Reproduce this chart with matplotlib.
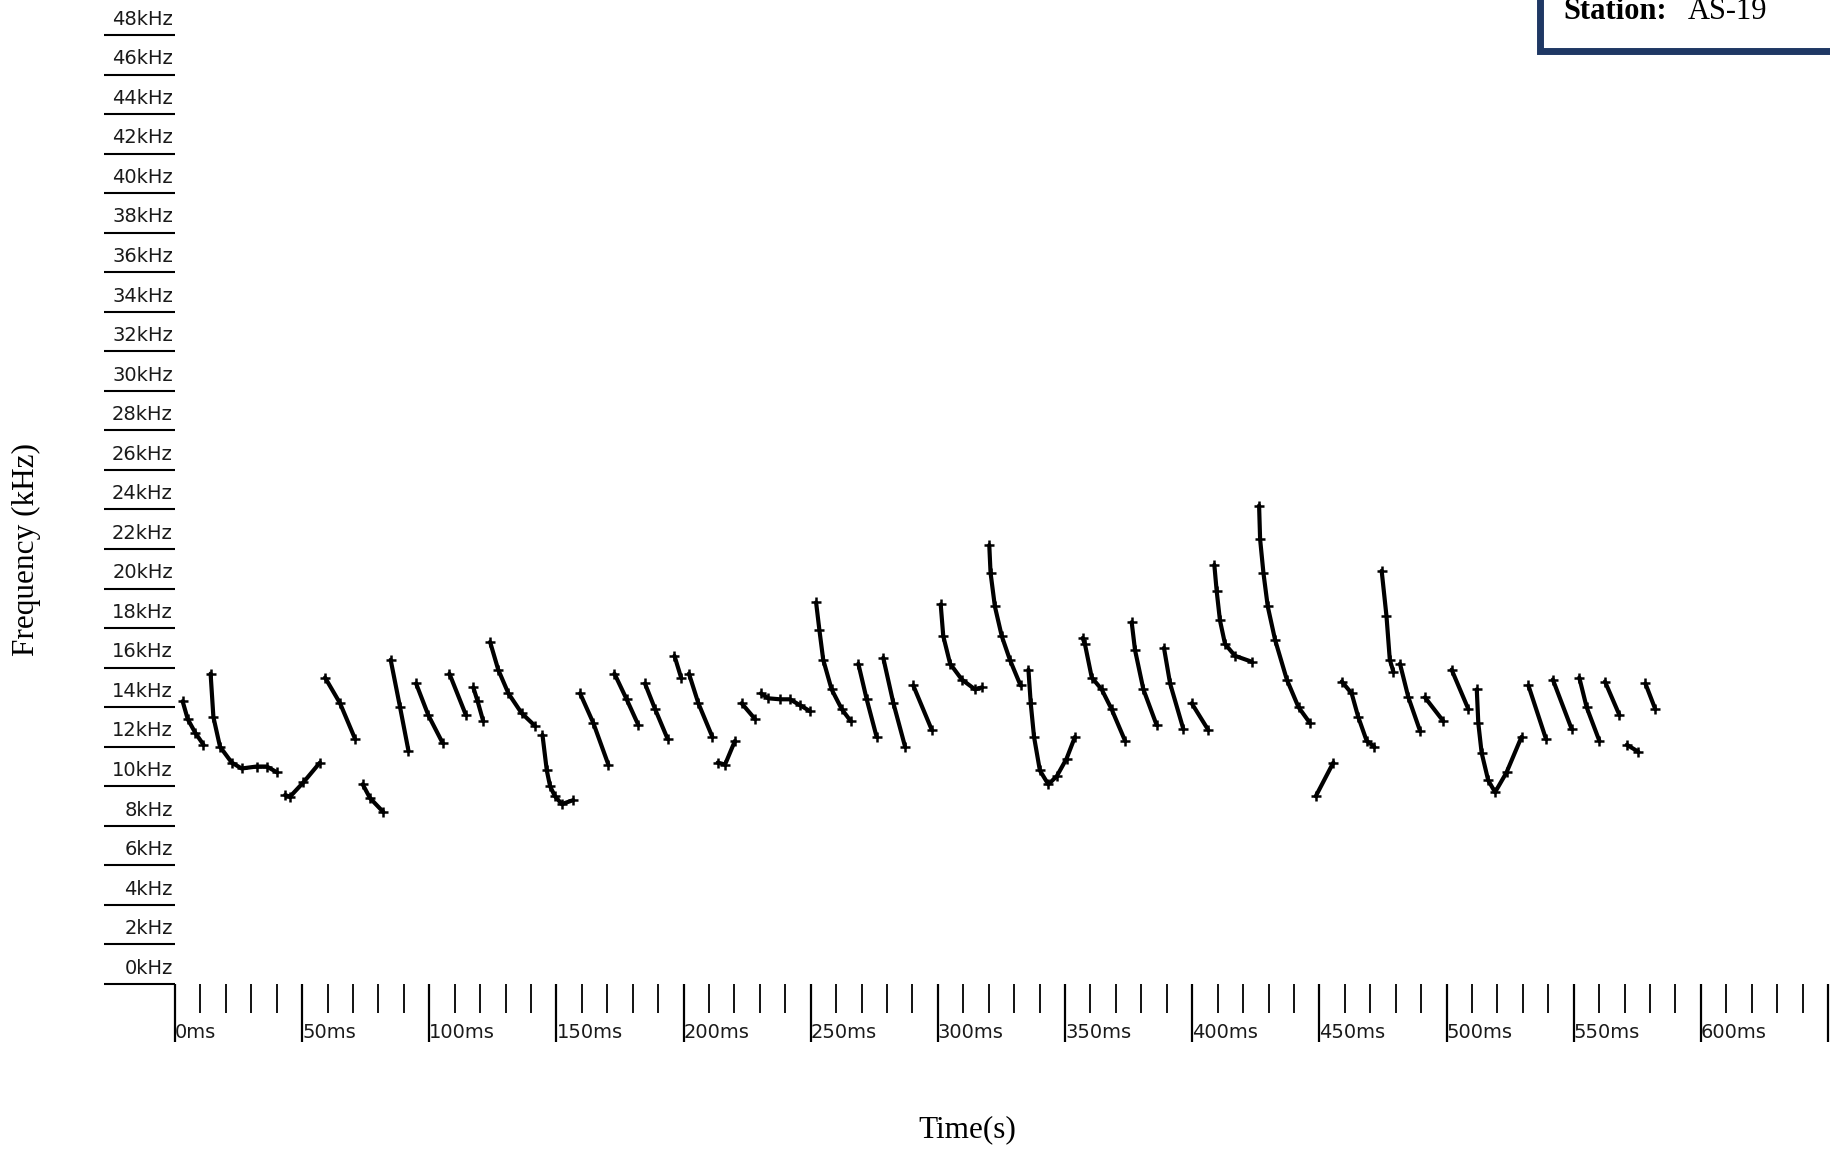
import matplotlib
matplotlib.use("Agg")
import matplotlib.pyplot as plt
from matplotlib.patches import Rectangle

# call traces: time (ms) and frequency (kHz) per call
call_ms = [
    [3.0, 5.0, 8.0, 11.2],
    [14.0, 15.1, 17.7, 22.3, 26.2, 32.1, 36.1, 40.2],
    [43.3, 45.2, 50.5, 57.0],
    [59.0, 64.9, 70.8],
    [73.8, 76.7, 81.9],
    [84.8, 88.5, 91.8],
    [94.8, 99.6, 105.2],
    [107.9, 114.4],
    [117.3, 119.0, 121.2],
    [123.9, 127.1, 131.1, 136.3, 141.6],
    [144.5, 146.2, 147.5, 149.4, 152.1, 156.6],
    [159.3, 164.5, 170.4],
    [172.8, 177.6, 182.2],
    [184.8, 188.8, 193.7],
    [196.4, 199.0],
    [202.1, 205.8, 211.3],
    [213.4, 216.3, 220.2],
    [222.8, 228.1],
    [230.4, 233.3, 237.9, 241.8, 245.8, 249.7],
    [252.1, 253.4, 254.9, 258.2, 262.2, 265.7],
    [268.7, 272.0, 275.9],
    [278.5, 282.5, 287.1],
    [290.3, 297.6],
    [301.1, 302.1, 304.8, 309.4, 314.6, 317.2],
    [320.2, 320.7, 322.4, 325.1, 328.3, 332.5],
    [335.6, 336.5, 337.8, 340.1, 343.4, 346.7, 350.6, 353.9],
    [356.9, 357.8, 360.5, 364.4, 368.3, 373.6],
    [376.2, 377.5, 380.8, 386.0],
    [388.9, 391.3, 396.5],
    [399.8, 406.3],
    [408.7, 409.6, 410.9, 412.9, 416.8, 423.4],
    [426.3, 426.7, 428.0, 429.7, 432.6, 437.2, 441.8, 446.3],
    [448.6, 455.5],
    [458.8, 462.7, 465.3, 468.6, 471.6],
    [474.5, 476.4, 477.7, 479.1],
    [481.7, 485.0, 489.6],
    [491.5, 498.7],
    [502.0, 508.6],
    [511.9, 512.5, 513.8, 516.4, 519.1, 523.6, 529.5],
    [532.2, 539.1],
    [541.8, 549.2],
    [552.2, 555.1, 560.1],
    [562.3, 568.0],
    [570.9, 575.4],
    [578.2, 582.1],
]
call_khz = [
    [14.3, 13.4, 12.7, 12.1],
    [15.7, 13.5, 12.0, 11.2, 10.9, 11.0, 11.0, 10.7],
    [9.56, 9.47, 10.2, 11.2],
    [15.5, 14.2, 12.4],
    [10.1, 9.4, 8.7],
    [16.4, 14.0, 11.8],
    [15.2, 13.6, 12.2],
    [15.7, 13.6],
    [15.0, 14.3, 13.3],
    [17.3, 15.9, 14.7, 13.7, 13.05],
    [12.6, 10.8, 10.0, 9.5, 9.1, 9.3],
    [14.7, 13.2, 11.1],
    [15.7, 14.4, 13.1],
    [15.2, 13.9, 12.4],
    [16.6, 15.5],
    [15.7, 14.2, 12.5],
    [11.2, 11.1, 12.3],
    [14.2, 13.4],
    [14.7, 14.45, 14.4, 14.4, 14.1, 13.8],
    [19.3, 17.9, 16.4, 14.9, 13.9, 13.3],
    [16.2, 14.4, 12.5],
    [16.5, 14.2, 12.0],
    [15.1, 12.85],
    [19.2, 17.6, 16.2, 15.4, 14.9, 15.0],
    [22.2, 20.8, 19.1, 17.6, 16.4, 15.1],
    [15.9, 14.2, 12.5, 10.8, 10.1, 10.5, 11.4, 12.5],
    [17.5, 17.2, 15.5, 14.9, 13.9, 12.3],
    [18.3, 16.9, 14.9, 13.1],
    [17.0, 15.2, 12.9],
    [14.2, 12.85],
    [21.2, 19.9, 18.4, 17.2, 16.6, 16.3],
    [24.2, 22.5, 20.8, 19.1, 17.4, 15.4, 14.0, 13.2],
    [9.5, 11.2],
    [15.3, 14.7, 13.5, 12.3, 12.0],
    [20.9, 18.6, 16.4, 15.8],
    [16.2, 14.5, 12.8],
    [14.5, 13.3],
    [15.9, 13.9],
    [14.9, 13.2, 11.7, 10.3, 9.7, 10.7, 12.5],
    [15.1, 12.4],
    [15.4, 12.9],
    [15.5, 14.0, 12.3],
    [15.3, 13.6],
    [12.1, 11.75],
    [15.2, 13.9],
]

khz_ticks = list(range(0, 50, 2))
ms_major = list(range(0, 651, 50))
ms_minor = list(range(0, 651, 10))

fig = plt.figure(figsize=(18.3, 11.52), dpi=100)
ax = fig.add_axes([175 / 1830, 168 / 1152, 1655 / 1830, 984 / 1152])
ax.set_xlim(0, 650.8)
ax.set_ylim(0, 49.77)
for s in ax.spines.values():
    s.set_visible(False)

for t, f in zip(call_ms, call_khz):
    ax.plot(t, f, color='black', lw=3.0, marker='+', ms=7, mew=1.8,
            solid_capstyle='round', solid_joinstyle='round')

# frequency scale: underline ticks with labels sitting on top
ax.set_yticks(khz_ticks)
ax.tick_params(axis='y', direction='out', length=51, width=1.5,
               color='black', labelleft=False)
for v in khz_ticks:
    ax.annotate('%dkHz' % v, xy=(0, v), xycoords=('axes fraction', 'data'),
                xytext=(-1.5, 4.5), textcoords='offset points',
                ha='right', va='bottom', fontsize=14, color='#1a1a1a',
                family='DejaVu Sans', annotation_clip=False)

# time scale
ax.set_xticks(ms_major)
ax.set_xticklabels(['%dms' % v if v < 650 else '' for v in ms_major],
                   fontsize=14, color='#1a1a1a', ha='left')
ax.set_xticks([m for m in ms_minor if m % 50], minor=True)
ax.tick_params(axis='x', which='major', direction='out', length=42,
               width=1.6, pad=-14)
ax.tick_params(axis='x', which='minor', direction='out', length=21,
               width=1.3)

serif = ['Liberation Serif', 'DejaVu Serif']
fig.text(26 / 1830, 1 - 549 / 1152, 'Frequency (kHz)', rotation=90,
         ha='center', va='center', fontsize=22.5, family=serif)
fig.text(967 / 1830, 1 - 1130 / 1152, 'Time(s)', ha='center',
         va='center', fontsize=22.5, family=serif)

# station box in the top right corner
box = Rectangle((1539.5 / 1830, 1 - 51 / 1152), 0.2, 0.2,
                transform=fig.transFigure, facecolor='white',
                edgecolor='#1f3864', lw=5, clip_on=False, zorder=5)
fig.patches.append(box)
fig.text(1563 / 1830, 1 - 19 / 1152, 'Station:', fontsize=22,
         fontweight='bold', family=serif, va='baseline', zorder=6)
fig.text(1688 / 1830, 1 - 19 / 1152, 'AS-19', fontsize=22,
         family=serif, va='baseline', zorder=6)

fig.savefig('out.png', dpi=100, facecolor='white')
